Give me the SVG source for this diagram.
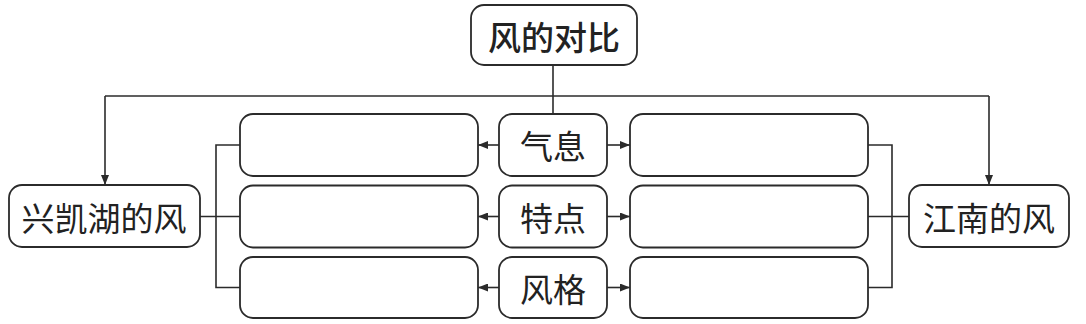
<svg xmlns="http://www.w3.org/2000/svg" width="1086" height="324" viewBox="0 0 1086 324">
<style>
.box{fill:#fff;stroke:#2b2b2b;stroke-width:1.8}
.ln{fill:none;stroke:#2b2b2b;stroke-width:1.6}
.t{font-family:"Noto Sans CJK SC","Noto Sans CJK JP",sans-serif;font-size:33px;fill:#222;text-anchor:middle;dominant-baseline:central}
.tb{font-weight:500}
</style>
<defs>
<marker id="ah" viewBox="0 0 10 8" refX="10" refY="4" markerWidth="10" markerHeight="8" markerUnits="userSpaceOnUse" orient="auto">
<path d="M0,0 L10,4 L0,8 z" fill="#2b2b2b"/>
</marker>
</defs>
<rect width="1086" height="324" fill="#fff"/>
<g id="connectors">
<path class="ln" d="M553,65 V114"/>
<path class="ln" d="M105,96 H989"/>
<path class="ln" d="M105,96 V185" marker-end="url(#ah)"/>
<path class="ln" d="M989,96 V185" marker-end="url(#ah)"/>
<path class="ln" d="M499,145 H478" marker-end="url(#ah)"/>
<path class="ln" d="M499,216.5 H478" marker-end="url(#ah)"/>
<path class="ln" d="M499,287.5 H478" marker-end="url(#ah)"/>
<path class="ln" d="M607,145 H630" marker-end="url(#ah)"/>
<path class="ln" d="M607,216.5 H630" marker-end="url(#ah)"/>
<path class="ln" d="M607,287.5 H630" marker-end="url(#ah)"/>
<path class="ln" d="M240,145 H216 V287.5 H240"/>
<path class="ln" d="M200,216.5 H240"/>
<path class="ln" d="M868,145 H892 V287.5 H868"/>
<path class="ln" d="M868,216.5 H909"/>
</g>
<g id="top">
<rect class="box" x="471" y="5" width="166" height="60" rx="13"/>
<text class="t tb" x="554" y="36">风的对比</text>
</g>
<g id="left">
<rect class="box" x="9" y="185" width="191" height="62" rx="13"/>
<text class="t" x="104" y="216.5">兴凯湖的风</text>
</g>
<g id="right">
<rect class="box" x="909" y="185" width="160" height="62" rx="13"/>
<text class="t" x="989" y="216.5">江南的风</text>
</g>
<g id="c1">
<rect class="box" x="499" y="114" width="108" height="62" rx="13"/>
<text class="t" x="553" y="145">气息</text>
</g>
<g id="c2">
<rect class="box" x="499" y="185.5" width="108" height="62" rx="13"/>
<text class="t" x="553" y="216.5">特点</text>
</g>
<g id="c3">
<rect class="box" x="499" y="257" width="108" height="61" rx="13"/>
<text class="t" x="553" y="287.5">风格</text>
</g>
<g id="l1"><rect class="box" x="240" y="114" width="238" height="62" rx="13"/></g>
<g id="l2"><rect class="box" x="240" y="185.5" width="238" height="62" rx="13"/></g>
<g id="l3"><rect class="box" x="240" y="257" width="238" height="61" rx="13"/></g>
<g id="r1"><rect class="box" x="630" y="114" width="238" height="62" rx="13"/></g>
<g id="r2"><rect class="box" x="630" y="185.5" width="238" height="62" rx="13"/></g>
<g id="r3"><rect class="box" x="630" y="257" width="238" height="61" rx="13"/></g>
</svg>
